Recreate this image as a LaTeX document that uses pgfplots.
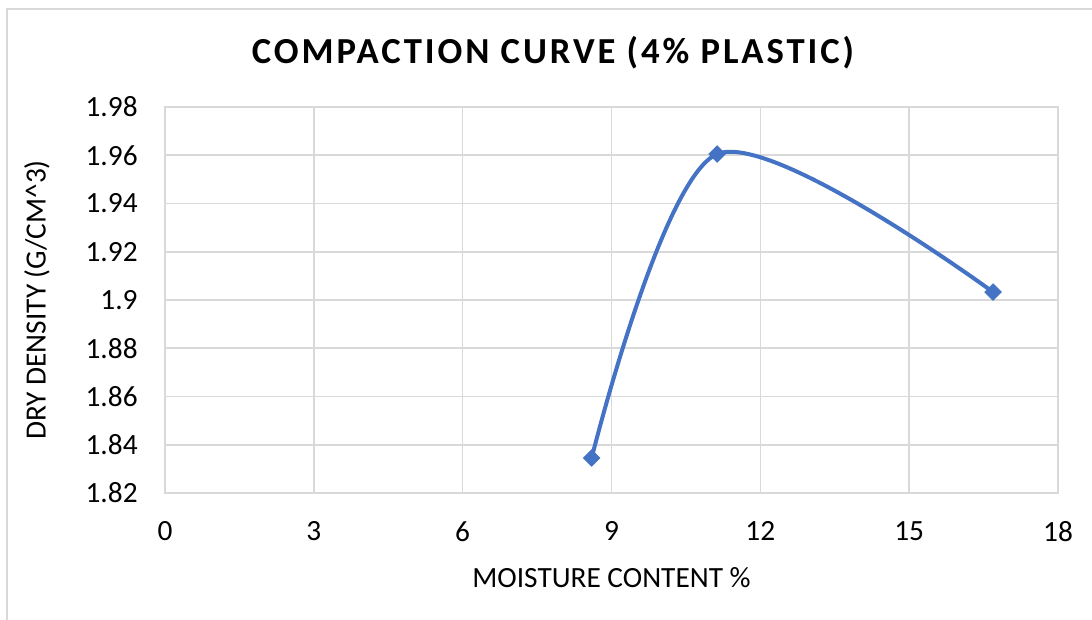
\documentclass[border=0pt]{standalone}
\usepackage{pgfplots}
\pgfplotsset{compat=1.18}
\usepackage{fontspec}
\setmainfont{Carlito}
\definecolor{gridgray}{HTML}{D9D9D9}
\definecolor{frame}{HTML}{D9D9D9}
\definecolor{series}{HTML}{4472C4}
\begin{document}
\begin{tikzpicture}
% canvas: 1 px = 0.75pt, origin bottom left
\path[use as bounding box] (0pt,0pt) rectangle (819pt,465pt);
\draw[frame,line width=0.9pt] (5.25pt,0pt) -- (5.25pt,458.25pt) -- (819pt,458.25pt);
\node[font=\fontsize{27.5}{32}\selectfont\bfseries,anchor=center] at (414.75pt,425.25pt)
  {\addfontfeatures{LetterSpace=8}COMPACTION CURVE (4\% PLASTIC)};
\begin{axis}[
  at={(123.75pt,95.25pt)}, anchor=south west,
  scale only axis, width=669.75pt, height=289.5pt,
  xmin=0, xmax=18, ymin=1.82, ymax=1.98,
  xtick={0,3,...,18},
  ytick={1.82,1.84,...,1.99},
  yticklabels={1.82,1.84,1.86,1.88,1.9,1.92,1.94,1.96,1.98},
  grid=major,
  major grid style={gridgray,line width=1.2pt},
  axis line style={gridgray,line width=1.2pt},
  tick style={draw=none},
  ticklabel style={font=\fontsize{22}{26}\selectfont},
  /pgf/number format/assume math mode=true,
  xticklabel style={yshift=-18pt},
  yticklabel style={xshift=-17pt},
  xlabel={MOISTURE CONTENT \%},
  ylabel={DRY DENSITY (G/CM\^{}3)},
  label style={font=\fontsize{22}{26}\selectfont},
  xlabel style={yshift=-12pt},
  ylabel style={yshift=20pt},
]
\addplot[series, line width=3pt, smooth, mark=square*, mark size=4.4pt,
  mark options={rotate=45,fill=series,draw=series,line width=0.5pt}]
  coordinates {(8.6,1.8345) (11.13,1.9605) (16.69,1.9033)};
\end{axis}
\end{tikzpicture}
\end{document}
